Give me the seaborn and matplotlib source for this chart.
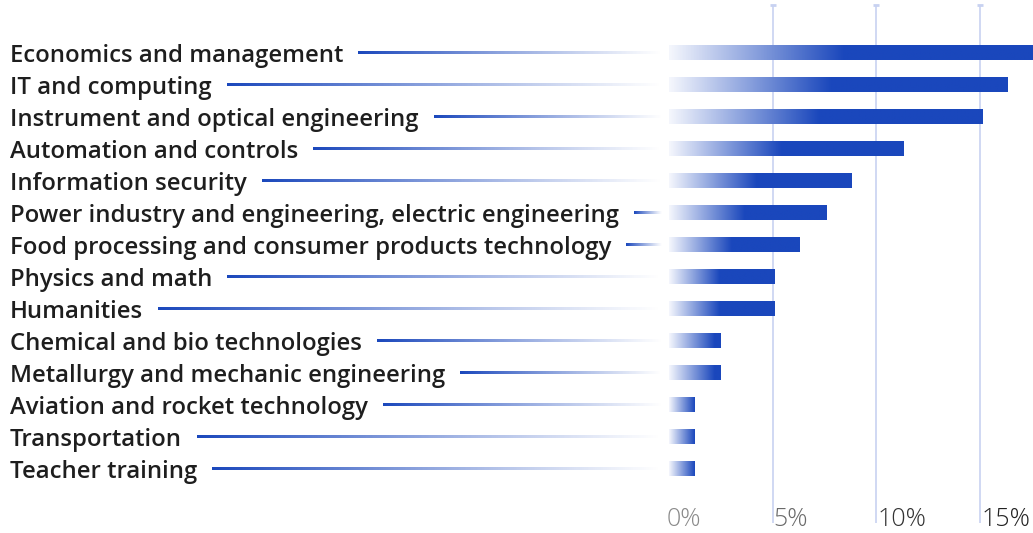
import matplotlib.pyplot as plt
import seaborn as sns
import numpy as np
import pandas as pd
from matplotlib.colors import LinearSegmentedColormap, to_rgba

plt.switch_backend('Agg')

# данные
fields = [
    'Economics and management',
    'IT and computing',
    'Instrument and optical engineering',
    'Automation and controls',
    'Information security',
    'Power industry and engineering, electric engineering',
    'Food processing and consumer products technology',
    'Physics and math',
    'Humanities',
    'Chemical and bio technologies',
    'Metallurgy and mechanic engineering',
    'Aviation and rocket technology',
    'Transportation',
    'Teacher training',
]
shares = [17.6, 16.3, 15.1, 11.3, 8.8, 7.6, 6.3, 5.1, 5.1, 2.5, 2.5, 1.25, 1.25, 1.25]
tick_values = [0, 5, 10, 15]
tick_labels = ['0%', '5%', '10%', '15%']
tick_colors = ['#8a8a8a', '#6a6a6a', '#333333', '#222222']

BLUE = '#1a47bc'
GRID = '#c8d2f1'

df = pd.DataFrame({'field': fields, 'share': shares})

sns.set_style('white')
plt.rcParams['font.family'] = ['Open Sans', 'DejaVu Sans']

W, H = 1033, 533
fig = plt.figure(figsize=(W / 100, H / 100), dpi=100)

# слой для линий-выносок в пикселях фигуры
over = fig.add_axes([0, 0, 1, 1], zorder=0)
over.set_xlim(0, W)
over.set_ylim(0, H)
over.axis('off')

ax = fig.add_axes([669 / W, 10 / H, (W - 669) / W, (523 - 5) / H], zorder=1)
ax.patch.set_alpha(0)

sns.barplot(data=df, x='share', y='field', orient='h', color=BLUE, width=0.44, ax=ax)

xmax = 17.55
ylim = (13 + 1.69, -1.5)

# градиентная заливка полос
cmap = LinearSegmentedColormap.from_list('bar', ['#f5f7fd', BLUE])
for p in ax.patches:
    x0, y0 = p.get_x(), p.get_y()
    w, h = p.get_width(), p.get_height()
    p.set_visible(False)
    ramp = max(0.48 * w, min(w, 2.2))
    xs = np.linspace(0, w, 400)
    vals = np.clip(xs / ramp, 0, 1)[None, :]
    ax.imshow(vals, cmap=cmap, vmin=0, vmax=1, aspect='auto',
              extent=[x0, x0 + w, y0 + h, y0], interpolation='bilinear', zorder=3)

ax.set_xlim(0, xmax)
ax.set_ylim(*ylim)

# сетка
for t in tick_values[1:]:
    ax.axvline(t, color=GRID, lw=1.2, zorder=1)
    ax.plot([t], [1], transform=ax.get_xaxis_transform(), marker='_',
            markersize=5, mew=2, color=GRID, clip_on=False, zorder=1)

for t, lab, c in zip(tick_values, tick_labels, tick_colors):
    ax.text(t - (0.1 if t == 0 else -0.05), -0.017, lab, transform=ax.get_xaxis_transform(),
            ha='left', va='bottom', fontsize=18, color=c, fontweight='light')

ax.set_xticks([])
ax.set_yticks([])
ax.set_xlabel('')
ax.set_ylabel('')
sns.despine(ax=ax, left=True, bottom=True)

# подписи категорий
label_texts = []
for i, name in enumerate(fields):
    y_disp = ax.transData.transform((0, i))[1]
    t = fig.text(10 / W, y_disp / H, name, ha='left', va='center_baseline',
                 fontsize=17.2, fontweight='semibold', color='#1e1e1e')
    label_texts.append((t, y_disp))

fig.canvas.draw()
renderer = fig.canvas.get_renderer()

# линии-выноски с затуханием
line_end = 662
base = np.array(to_rgba(BLUE))
for t, y_disp in label_texts:
    bb = t.get_window_extent(renderer)
    start = bb.x1 + 15
    if start >= line_end - 4:
        continue
    n = 300
    grad = np.tile(base, (1, n, 1))
    grad[0, :, 3] = np.linspace(1.0, 0.0, n) ** 1.1
    over.imshow(grad, aspect='auto', interpolation='bilinear',
                extent=[start, line_end, y_disp - 1.1, y_disp + 1.1])

over.set_xlim(0, W)
over.set_ylim(0, H)

fig.savefig('out.png', dpi=100)
plt.close(fig)
